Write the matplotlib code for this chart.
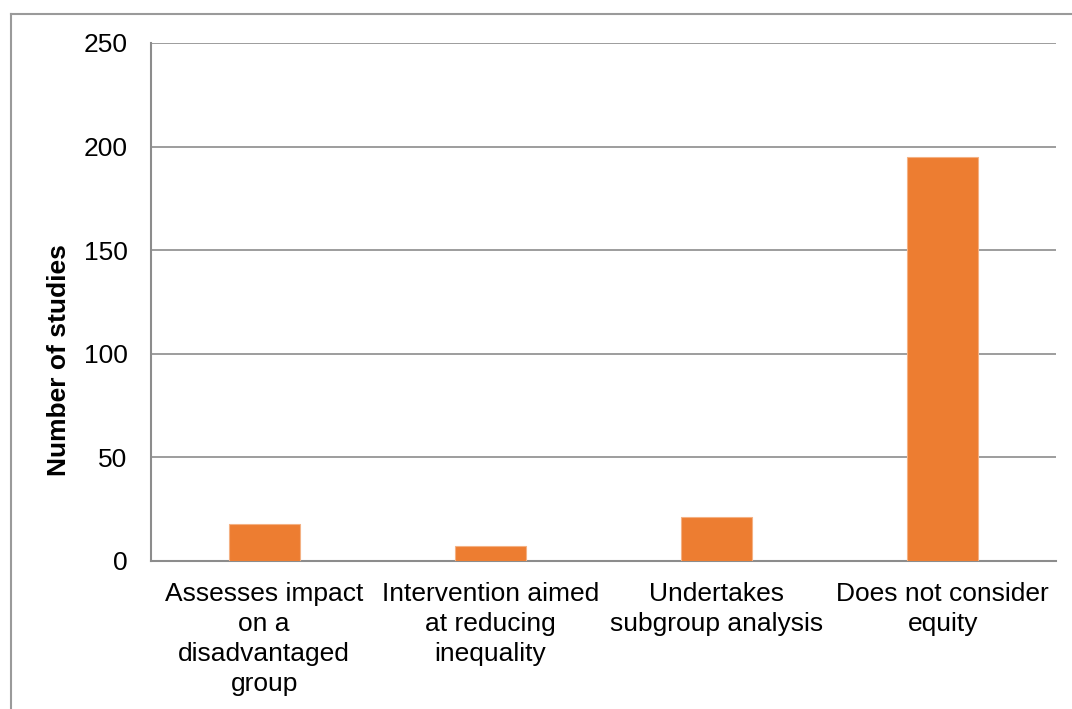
import matplotlib.pyplot as plt
from matplotlib.lines import Line2D

categories = ['Assesses impact\non a\ndisadvantaged\ngroup',
              'Intervention aimed\nat reducing\ninequality',
              'Undertakes\nsubgroup analysis',
              'Does not consider\nequity']
counts = [18, 7, 21, 195]
yticks = [0, 50, 100, 150, 200, 250]

plt.rcParams['font.family'] = ['Liberation Sans', 'DejaVu Sans']

fig = plt.figure(figsize=(10.72, 7.09), dpi=100)
W, H = 1072, 709
ax = fig.add_axes([151 / W, 1 - 561 / H, (1056 - 151) / W, (561 - 43) / H])

ax.bar(range(len(counts)), counts, width=0.314, color='#ED7D31',
       edgecolor='#F4B183', linewidth=0.8, zorder=3)

ax.set_xlim(-0.5, len(counts) - 0.5)
ax.set_ylim(0, 250)
ax.set_yticks(yticks)
ax.set_xticks(range(len(categories)))
ax.set_xticklabels(categories, fontsize=19, linespacing=1.31)
ax.tick_params(axis='y', labelsize=19, length=0, pad=17)
ax.tick_params(axis='x', length=0, pad=15)
ax.grid(axis='y', color='#8C8C8C', linewidth=1.2, zorder=0)

for s in ['top', 'right']:
    ax.spines[s].set_visible(False)
for s in ['left', 'bottom']:
    ax.spines[s].set_color('#8C8C8C')
    ax.spines[s].set_linewidth(1.5)

fig.text(59 / W, 1 - 360 / H, 'Number of studies', fontsize=19, fontweight='bold',
         rotation=90, ha='center', va='center')

# outer chart border (cut off on the right and bottom)
fig.add_artist(Line2D([11 / W, 1], [1 - 14 / H, 1 - 14 / H], color='#9A9A9A', lw=1.5))
fig.add_artist(Line2D([11 / W, 11 / W], [0, 1 - 14 / H], color='#9A9A9A', lw=1.5))

fig.savefig('out.png', dpi=100)
